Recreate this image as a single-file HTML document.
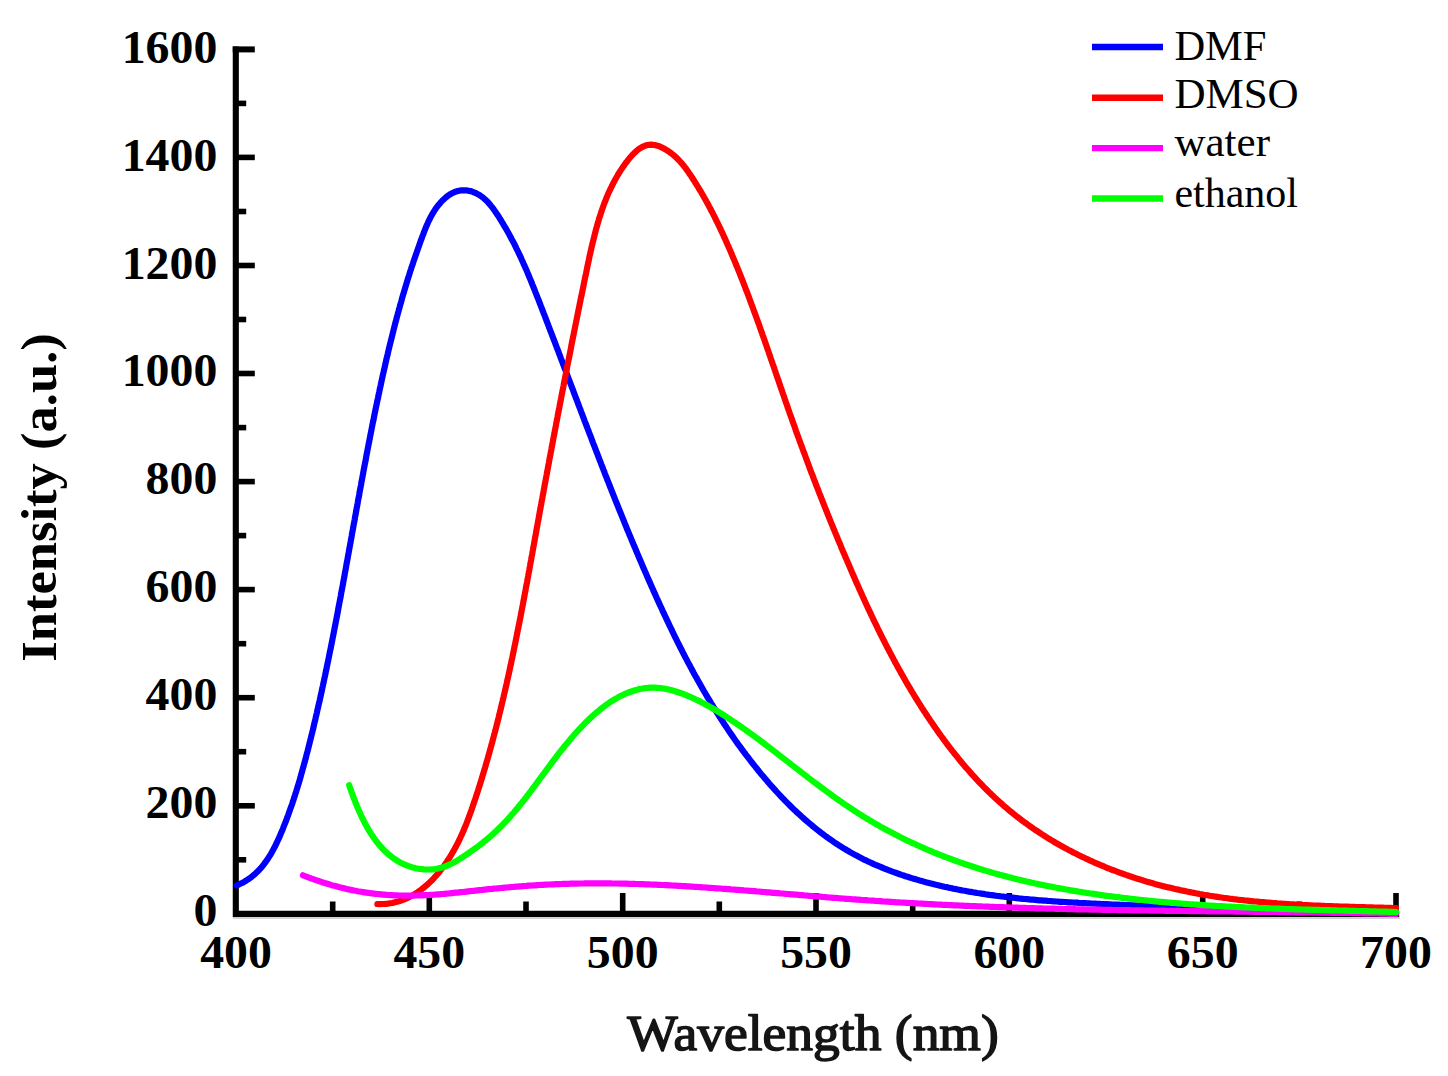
<!DOCTYPE html>
<html><head><meta charset="utf-8"><style>
html,body{margin:0;padding:0;background:#fff;}
body{width:1448px;height:1076px;overflow:hidden;}
svg{display:block;}
</style></head><body>
<svg width="1448" height="1076" viewBox="0 0 1448 1076">
<rect width="1448" height="1076" fill="#fff"/>
<path d="M235.8 46.4 V913.9 H1399.2" fill="none" stroke="#000" stroke-width="6.1" stroke-linejoin="miter"/>
<line x1="233" y1="918" x2="1400" y2="918" stroke="#d2d2d2" stroke-width="2"/>
<line x1="236" y1="859.8" x2="246.2" y2="859.8" stroke="#000" stroke-width="5.6"/>
<line x1="236" y1="805.8" x2="254.8" y2="805.8" stroke="#000" stroke-width="5.6"/>
<line x1="236" y1="751.7" x2="246.2" y2="751.7" stroke="#000" stroke-width="5.6"/>
<line x1="236" y1="697.7" x2="254.8" y2="697.7" stroke="#000" stroke-width="5.6"/>
<line x1="236" y1="643.7" x2="246.2" y2="643.7" stroke="#000" stroke-width="5.6"/>
<line x1="236" y1="589.6" x2="254.8" y2="589.6" stroke="#000" stroke-width="5.6"/>
<line x1="236" y1="535.6" x2="246.2" y2="535.6" stroke="#000" stroke-width="5.6"/>
<line x1="236" y1="481.6" x2="254.8" y2="481.6" stroke="#000" stroke-width="5.6"/>
<line x1="236" y1="427.6" x2="246.2" y2="427.6" stroke="#000" stroke-width="5.6"/>
<line x1="236" y1="373.5" x2="254.8" y2="373.5" stroke="#000" stroke-width="5.6"/>
<line x1="236" y1="319.5" x2="246.2" y2="319.5" stroke="#000" stroke-width="5.6"/>
<line x1="236" y1="265.5" x2="254.8" y2="265.5" stroke="#000" stroke-width="5.6"/>
<line x1="236" y1="211.5" x2="246.2" y2="211.5" stroke="#000" stroke-width="5.6"/>
<line x1="236" y1="157.4" x2="254.8" y2="157.4" stroke="#000" stroke-width="5.6"/>
<line x1="236" y1="103.4" x2="246.2" y2="103.4" stroke="#000" stroke-width="5.6"/>
<path d="M232.75 49.4 H254.8" stroke="#000" stroke-width="6"/>
<line x1="332.7" y1="914" x2="332.7" y2="901.5" stroke="#000" stroke-width="5.6"/>
<line x1="429.3" y1="914" x2="429.3" y2="893.0" stroke="#000" stroke-width="5.6"/>
<line x1="526.0" y1="914" x2="526.0" y2="901.5" stroke="#000" stroke-width="5.6"/>
<line x1="622.7" y1="914" x2="622.7" y2="893.0" stroke="#000" stroke-width="5.6"/>
<line x1="719.3" y1="914" x2="719.3" y2="901.5" stroke="#000" stroke-width="5.6"/>
<line x1="816.0" y1="914" x2="816.0" y2="893.0" stroke="#000" stroke-width="5.6"/>
<line x1="912.7" y1="914" x2="912.7" y2="901.5" stroke="#000" stroke-width="5.6"/>
<line x1="1009.3" y1="914" x2="1009.3" y2="893.0" stroke="#000" stroke-width="5.6"/>
<line x1="1106.0" y1="914" x2="1106.0" y2="901.5" stroke="#000" stroke-width="5.6"/>
<line x1="1202.7" y1="914" x2="1202.7" y2="893.0" stroke="#000" stroke-width="5.6"/>
<line x1="1299.3" y1="914" x2="1299.3" y2="901.5" stroke="#000" stroke-width="5.6"/>
<line x1="1396.0" y1="914" x2="1396.0" y2="893.0" stroke="#000" stroke-width="5.6"/>
<g fill="none" stroke-width="6.2" stroke-linecap="round" stroke-linejoin="round">
<path d="M236.7 885.4 L238.7 884.6 L240.7 883.6 L242.6 882.7 L244.5 881.6 L246.3 880.5 L248.0 879.4 L249.7 878.2 L251.4 877.0 L253.0 875.7 L254.5 874.4 L256.0 873.0 L257.5 871.6 L258.9 870.1 L260.3 868.6 L261.7 867.1 L263.0 865.5 L264.2 863.9 L265.4 862.2 L266.6 860.6 L267.8 858.8 L268.9 857.1 L270.0 855.4 L271.1 853.6 L272.1 851.8 L273.1 849.9 L274.1 848.1 L275.1 846.2 L276.0 844.3 L276.9 842.4 L277.8 840.5 L278.7 838.6 L279.6 836.7 L280.4 834.7 L281.2 832.8 L282.1 830.8 L282.9 828.8 L283.6 826.9 L284.4 824.9 L285.2 822.9 L286.0 821.0 L286.7 819.0 L287.4 817.0 L288.2 815.1 L288.9 813.1 L289.6 811.1 L290.3 809.1 L291.0 807.1 L291.7 805.2 L292.4 803.2 L293.0 801.2 L293.7 799.2 L294.3 797.2 L295.0 795.2 L295.6 793.2 L296.3 791.2 L296.9 789.2 L297.5 787.2 L298.1 785.3 L298.7 783.3 L299.3 781.3 L299.9 779.3 L300.5 777.2 L301.0 775.2 L301.6 773.2 L302.2 771.2 L302.7 769.2 L303.3 767.2 L303.8 765.2 L304.4 763.2 L304.9 761.2 L305.5 759.2 L306.0 757.2 L306.5 755.1 L307.0 753.1 L307.6 751.1 L308.1 749.1 L308.6 747.1 L309.1 745.1 L309.6 743.0 L310.1 741.0 L310.6 739.0 L311.1 737.0 L311.6 734.9 L312.1 732.9 L312.6 730.9 L313.1 728.9 L313.6 726.8 L314.0 724.8 L314.5 722.8 L315.0 720.7 L315.5 718.7 L315.9 716.7 L316.4 714.7 L316.9 712.6 L317.3 710.6 L317.8 708.6 L318.3 706.5 L318.7 704.5 L319.2 702.4 L319.7 700.4 L320.1 698.4 L320.6 696.3 L321.0 694.3 L321.5 692.3 L321.9 690.2 L322.3 688.2 L322.8 686.1 L323.2 684.1 L323.7 682.0 L324.1 680.0 L324.5 678.0 L325.0 675.9 L325.4 673.9 L325.8 671.8 L326.3 669.8 L326.7 667.7 L327.1 665.7 L327.5 663.6 L328.0 661.6 L328.4 659.5 L328.8 657.5 L329.2 655.4 L329.6 653.4 L330.0 651.3 L330.5 649.3 L330.9 647.2 L331.3 645.2 L331.7 643.1 L332.1 641.1 L332.5 639.0 L332.9 637.0 L333.3 634.9 L333.7 632.8 L334.1 630.8 L334.5 628.7 L334.9 626.7 L335.3 624.6 L335.7 622.6 L336.1 620.5 L336.5 618.5 L336.9 616.4 L337.3 614.3 L337.7 612.3 L338.1 610.2 L338.4 608.2 L338.8 606.1 L339.2 604.0 L339.6 602.0 L340.0 599.9 L340.4 597.9 L340.8 595.8 L341.1 593.7 L341.5 591.7 L341.9 589.6 L342.3 587.6 L342.7 585.5 L343.1 583.4 L343.4 581.4 L343.8 579.3 L344.2 577.2 L344.6 575.2 L344.9 573.1 L345.3 571.1 L345.7 569.0 L346.1 566.9 L346.4 564.9 L346.8 562.8 L347.2 560.7 L347.6 558.7 L347.9 556.6 L348.3 554.6 L348.7 552.5 L349.1 550.4 L349.4 548.4 L349.8 546.3 L350.2 544.2 L350.6 542.2 L350.9 540.1 L351.3 538.1 L351.7 536.0 L352.0 533.9 L352.4 531.9 L352.8 529.8 L353.2 527.7 L353.5 525.7 L353.9 523.6 L354.3 521.6 L354.7 519.5 L355.0 517.4 L355.4 515.4 L355.8 513.3 L356.2 511.2 L356.5 509.2 L356.9 507.1 L357.3 505.1 L357.7 503.0 L358.0 500.9 L358.4 498.9 L358.8 496.8 L359.2 494.8 L359.5 492.7 L359.9 490.6 L360.3 488.6 L360.7 486.5 L361.1 484.5 L361.4 482.4 L361.8 480.3 L362.2 478.3 L362.6 476.2 L363.0 474.2 L363.3 472.1 L363.7 470.1 L364.1 468.0 L364.5 465.9 L364.9 463.9 L365.3 461.8 L365.7 459.8 L366.1 457.7 L366.4 455.7 L366.8 453.6 L367.2 451.6 L367.6 449.5 L368.0 447.5 L368.4 445.4 L368.8 443.4 L369.2 441.3 L369.6 439.3 L370.0 437.2 L370.4 435.2 L370.8 433.1 L371.2 431.1 L371.6 429.0 L372.0 427.0 L372.4 424.9 L372.8 422.9 L373.3 420.8 L373.7 418.8 L374.1 416.7 L374.5 414.7 L374.9 412.6 L375.3 410.6 L375.7 408.6 L376.2 406.5 L376.6 404.5 L377.0 402.4 L377.4 400.4 L377.9 398.4 L378.3 396.3 L378.7 394.3 L379.2 392.2 L379.6 390.2 L380.0 388.2 L380.5 386.1 L380.9 384.1 L381.3 382.1 L381.8 380.0 L382.2 378.0 L382.7 376.0 L383.1 373.9 L383.6 371.9 L384.0 369.9 L384.5 367.9 L385.0 365.8 L385.4 363.8 L385.9 361.8 L386.3 359.8 L386.8 357.7 L387.3 355.7 L387.8 353.7 L388.2 351.7 L388.7 349.6 L389.2 347.6 L389.7 345.6 L390.2 343.6 L390.7 341.5 L391.2 339.5 L391.7 337.5 L392.2 335.5 L392.7 333.5 L393.2 331.5 L393.7 329.4 L394.2 327.4 L394.7 325.4 L395.2 323.4 L395.8 321.4 L396.3 319.4 L396.8 317.4 L397.4 315.3 L397.9 313.3 L398.5 311.3 L399.0 309.3 L399.6 307.3 L400.1 305.3 L400.7 303.3 L401.3 301.3 L401.8 299.3 L402.4 297.2 L403.0 295.2 L403.6 293.2 L404.2 291.2 L404.8 289.2 L405.4 287.2 L406.0 285.2 L406.6 283.2 L407.2 281.2 L407.8 279.2 L408.4 277.2 L409.1 275.2 L409.7 273.2 L410.3 271.2 L411.0 269.2 L411.6 267.2 L412.3 265.2 L413.0 263.2 L413.6 261.2 L414.3 259.2 L415.0 257.2 L415.7 255.2 L416.4 253.2 L417.1 251.2 L417.8 249.2 L418.5 247.2 L419.2 245.2 L419.9 243.2 L420.6 241.2 L421.4 239.2 L422.1 237.2 L422.9 235.2 L423.6 233.2 L424.4 231.2 L425.2 229.2 L426.0 227.2 L426.8 225.3 L427.7 223.3 L428.5 221.4 L429.5 219.5 L430.4 217.6 L431.4 215.8 L432.4 213.9 L433.5 212.1 L434.6 210.4 L435.7 208.6 L437.0 206.9 L438.2 205.3 L439.6 203.7 L440.9 202.1 L442.4 200.6 L443.9 199.2 L445.4 197.8 L447.0 196.5 L448.6 195.3 L450.3 194.2 L452.0 193.3 L453.8 192.4 L455.5 191.7 L457.3 191.1 L459.2 190.7 L461.0 190.4 L462.8 190.3 L464.7 190.3 L466.6 190.4 L468.4 190.7 L470.3 191.1 L472.1 191.6 L473.9 192.3 L475.7 193.0 L477.4 193.9 L479.2 194.9 L480.8 196.0 L482.5 197.2 L484.0 198.5 L485.6 199.9 L487.1 201.3 L488.5 202.9 L489.9 204.5 L491.2 206.1 L492.6 207.8 L493.9 209.6 L495.1 211.4 L496.4 213.2 L497.6 215.0 L498.8 216.8 L499.9 218.7 L501.1 220.5 L502.2 222.4 L503.3 224.2 L504.4 226.1 L505.5 227.9 L506.6 229.8 L507.7 231.7 L508.7 233.5 L509.7 235.4 L510.7 237.3 L511.7 239.2 L512.7 241.0 L513.7 242.9 L514.7 244.8 L515.6 246.7 L516.5 248.6 L517.5 250.5 L518.4 252.4 L519.3 254.3 L520.2 256.2 L521.1 258.1 L521.9 260.0 L522.8 261.9 L523.6 263.8 L524.5 265.7 L525.3 267.6 L526.2 269.5 L527.0 271.4 L527.8 273.4 L528.6 275.3 L529.4 277.2 L530.2 279.1 L531.0 281.0 L531.8 283.0 L532.5 284.9 L533.3 286.8 L534.1 288.7 L534.9 290.7 L535.6 292.6 L536.4 294.5 L537.1 296.5 L537.9 298.4 L538.7 300.3 L539.4 302.3 L540.2 304.2 L540.9 306.1 L541.7 308.1 L542.4 310.0 L543.2 312.0 L543.9 313.9 L544.7 315.8 L545.4 317.8 L546.2 319.7 L546.9 321.7 L547.7 323.6 L548.4 325.5 L549.1 327.5 L549.9 329.4 L550.6 331.4 L551.4 333.3 L552.1 335.3 L552.9 337.2 L553.6 339.2 L554.4 341.1 L555.1 343.0 L555.8 345.0 L556.6 346.9 L557.3 348.9 L558.1 350.8 L558.8 352.8 L559.5 354.7 L560.3 356.7 L561.0 358.6 L561.8 360.6 L562.5 362.5 L563.2 364.5 L564.0 366.4 L564.7 368.4 L565.5 370.3 L566.2 372.3 L566.9 374.2 L567.7 376.2 L568.4 378.1 L569.2 380.1 L569.9 382.0 L570.6 384.0 L571.4 385.9 L572.1 387.9 L572.9 389.8 L573.6 391.8 L574.3 393.8 L575.1 395.7 L575.8 397.7 L576.6 399.6 L577.3 401.6 L578.0 403.5 L578.8 405.5 L579.5 407.4 L580.3 409.4 L581.0 411.3 L581.8 413.3 L582.5 415.2 L583.2 417.2 L584.0 419.2 L584.7 421.1 L585.5 423.1 L586.2 425.0 L587.0 427.0 L587.7 428.9 L588.5 430.9 L589.2 432.8 L590.0 434.8 L590.7 436.7 L591.5 438.7 L592.2 440.6 L592.9 442.6 L593.7 444.6 L594.5 446.5 L595.2 448.5 L596.0 450.4 L596.7 452.4 L597.5 454.3 L598.2 456.3 L599.0 458.2 L599.7 460.2 L600.5 462.1 L601.2 464.1 L602.0 466.0 L602.8 468.0 L603.5 469.9 L604.3 471.9 L605.0 473.8 L605.8 475.8 L606.6 477.7 L607.3 479.7 L608.1 481.6 L608.9 483.6 L609.6 485.5 L610.4 487.5 L611.2 489.4 L611.9 491.4 L612.7 493.3 L613.5 495.3 L614.3 497.2 L615.0 499.1 L615.8 501.1 L616.6 503.0 L617.4 505.0 L618.2 506.9 L618.9 508.9 L619.7 510.8 L620.5 512.7 L621.3 514.7 L622.1 516.6 L622.9 518.6 L623.7 520.5 L624.4 522.4 L625.2 524.4 L626.0 526.3 L626.8 528.3 L627.6 530.2 L628.4 532.1 L629.2 534.1 L630.0 536.0 L630.8 537.9 L631.6 539.9 L632.4 541.8 L633.2 543.7 L634.0 545.7 L634.9 547.6 L635.7 549.5 L636.5 551.5 L637.3 553.4 L638.1 555.3 L638.9 557.2 L639.7 559.2 L640.6 561.1 L641.4 563.0 L642.2 564.9 L643.0 566.9 L643.9 568.8 L644.7 570.7 L645.5 572.6 L646.4 574.6 L647.2 576.5 L648.0 578.4 L648.9 580.3 L649.7 582.2 L650.6 584.1 L651.4 586.1 L652.3 588.0 L653.1 589.9 L654.0 591.8 L654.8 593.7 L655.7 595.6 L656.5 597.5 L657.4 599.4 L658.3 601.3 L659.1 603.2 L660.0 605.1 L660.9 607.0 L661.8 608.9 L662.6 610.8 L663.5 612.7 L664.4 614.6 L665.3 616.5 L666.2 618.4 L667.1 620.3 L668.0 622.2 L668.9 624.1 L669.8 626.0 L670.7 627.8 L671.6 629.7 L672.5 631.6 L673.4 633.5 L674.3 635.3 L675.2 637.2 L676.2 639.1 L677.1 641.0 L678.0 642.8 L679.0 644.7 L679.9 646.6 L680.8 648.4 L681.8 650.3 L682.7 652.1 L683.7 654.0 L684.6 655.8 L685.6 657.7 L686.6 659.5 L687.5 661.4 L688.5 663.2 L689.5 665.0 L690.5 666.9 L691.5 668.7 L692.4 670.5 L693.4 672.4 L694.4 674.2 L695.4 676.0 L696.5 677.8 L697.5 679.7 L698.5 681.5 L699.5 683.3 L700.5 685.1 L701.6 686.9 L702.6 688.7 L703.6 690.5 L704.7 692.3 L705.7 694.1 L706.8 695.9 L707.8 697.7 L708.9 699.4 L710.0 701.2 L711.0 703.0 L712.1 704.8 L713.2 706.5 L714.3 708.3 L715.4 710.1 L716.5 711.8 L717.6 713.6 L718.7 715.3 L719.8 717.1 L720.9 718.8 L722.1 720.6 L723.2 722.3 L724.3 724.1 L725.5 725.8 L726.6 727.5 L727.8 729.2 L728.9 731.0 L730.1 732.7 L731.3 734.4 L732.5 736.1 L733.6 737.8 L734.8 739.5 L736.0 741.2 L737.2 742.9 L738.4 744.6 L739.7 746.2 L740.9 747.9 L742.1 749.6 L743.3 751.3 L744.6 752.9 L745.8 754.6 L747.1 756.2 L748.4 757.9 L749.6 759.5 L750.9 761.2 L752.2 762.8 L753.5 764.5 L754.8 766.1 L756.1 767.7 L757.4 769.3 L758.7 771.0 L760.0 772.6 L761.3 774.2 L762.7 775.8 L764.0 777.4 L765.4 779.0 L766.7 780.5 L768.1 782.1 L769.4 783.7 L770.8 785.3 L772.2 786.8 L773.6 788.4 L775.0 789.9 L776.4 791.5 L777.8 793.0 L779.2 794.5 L780.7 796.1 L782.1 797.6 L783.6 799.1 L785.0 800.6 L786.5 802.1 L788.0 803.6 L789.4 805.0 L790.9 806.5 L792.4 808.0 L793.9 809.4 L795.4 810.8 L796.9 812.3 L798.5 813.7 L800.0 815.1 L801.5 816.5 L803.1 817.9 L804.7 819.3 L806.2 820.6 L807.8 822.0 L809.4 823.4 L811.0 824.7 L812.6 826.0 L814.2 827.3 L815.8 828.6 L817.4 829.9 L819.1 831.2 L820.7 832.5 L822.4 833.7 L824.0 835.0 L825.7 836.2 L827.4 837.4 L829.1 838.7 L830.8 839.8 L832.5 841.0 L834.2 842.2 L835.9 843.4 L837.7 844.5 L839.4 845.6 L841.1 846.7 L842.9 847.8 L844.7 848.9 L846.5 850.0 L848.3 851.0 L850.1 852.1 L851.9 853.1 L853.7 854.1 L855.5 855.1 L857.4 856.1 L859.2 857.0 L861.1 858.0 L862.9 858.9 L864.8 859.9 L866.7 860.8 L868.5 861.7 L870.4 862.5 L872.3 863.4 L874.3 864.3 L876.2 865.1 L878.1 865.9 L880.0 866.7 L882.0 867.5 L883.9 868.3 L885.9 869.1 L887.8 869.9 L889.8 870.6 L891.7 871.4 L893.7 872.1 L895.7 872.8 L897.7 873.5 L899.7 874.2 L901.6 874.9 L903.6 875.5 L905.6 876.2 L907.6 876.8 L909.7 877.5 L911.7 878.1 L913.7 878.7 L915.7 879.3 L917.7 879.9 L919.8 880.5 L921.8 881.0 L923.8 881.6 L925.9 882.2 L927.9 882.7 L929.9 883.2 L932.0 883.7 L934.0 884.3 L936.1 884.8 L938.1 885.2 L940.2 885.7 L942.2 886.2 L944.3 886.7 L946.3 887.1 L948.4 887.6 L950.4 888.0 L952.5 888.4 L954.5 888.9 L956.6 889.3 L958.7 889.7 L960.7 890.1 L962.8 890.5 L964.8 890.8 L966.9 891.2 L969.0 891.6 L971.0 891.9 L973.1 892.3 L975.1 892.6 L977.2 893.0 L979.3 893.3 L981.3 893.6 L983.4 893.9 L985.5 894.3 L987.5 894.6 L989.6 894.9 L991.7 895.1 L993.7 895.4 L995.8 895.7 L997.9 896.0 L999.9 896.2 L1002.0 896.5 L1004.1 896.7 L1006.1 897.0 L1008.2 897.2 L1010.3 897.5 L1012.4 897.7 L1014.4 897.9 L1016.5 898.1 L1018.6 898.4 L1020.7 898.6 L1022.7 898.8 L1024.8 899.0 L1026.9 899.2 L1029.0 899.4 L1031.0 899.6 L1033.1 899.7 L1035.2 899.9 L1037.3 900.1 L1039.4 900.3 L1041.4 900.4 L1043.5 900.6 L1045.6 900.7 L1047.7 900.9 L1049.8 901.0 L1051.8 901.2 L1053.9 901.3 L1056.0 901.5 L1058.1 901.6 L1060.2 901.8 L1062.2 901.9 L1064.3 902.0 L1066.4 902.1 L1068.5 902.3 L1070.6 902.4 L1072.7 902.5 L1074.7 902.6 L1076.8 902.7 L1078.9 902.9 L1081.0 903.0 L1083.1 903.1 L1085.2 903.2 L1087.3 903.3 L1089.3 903.4 L1091.4 903.5 L1093.5 903.6 L1095.6 903.7 L1097.7 903.8 L1099.8 903.9 L1101.9 904.0 L1104.0 904.1 L1106.0 904.2 L1108.1 904.3 L1110.2 904.4 L1112.3 904.5 L1114.4 904.6 L1116.5 904.7 L1118.6 904.7 L1120.7 904.8 L1122.7 904.9 L1124.8 905.0 L1126.9 905.1 L1129.0 905.2 L1131.1 905.3 L1133.2 905.3 L1135.3 905.4 L1137.4 905.5 L1139.5 905.6 L1141.6 905.7 L1143.6 905.8 L1145.7 905.8 L1147.8 905.9 L1149.9 906.0 L1152.0 906.1 L1154.1 906.1 L1156.2 906.2 L1158.3 906.3 L1160.4 906.4 L1162.5 906.4 L1164.6 906.5 L1166.6 906.6 L1168.7 906.7 L1170.8 906.7 L1172.9 906.8 L1175.0 906.9 L1177.1 906.9 L1179.2 907.0 L1181.3 907.1 L1183.4 907.1 L1185.5 907.2 L1187.6 907.3 L1189.7 907.3 L1191.7 907.4 L1193.8 907.5 L1195.9 907.5 L1198.0 907.6 L1200.1 907.7 L1202.2 907.7 L1204.3 907.8 L1206.4 907.8 L1208.5 907.9 L1210.6 908.0 L1212.7 908.0 L1214.8 908.1 L1216.9 908.1 L1219.0 908.2 L1221.0 908.3 L1223.1 908.3 L1225.2 908.4 L1227.3 908.4 L1229.4 908.5 L1231.5 908.5 L1233.6 908.6 L1235.7 908.7 L1237.8 908.7 L1239.9 908.8 L1242.0 908.8 L1244.1 908.9 L1246.2 908.9 L1248.3 909.0 L1250.4 909.0 L1252.4 909.1 L1254.5 909.1 L1256.6 909.2 L1258.7 909.2 L1260.8 909.3 L1262.9 909.3 L1265.0 909.4 L1267.1 909.4 L1269.2 909.5 L1271.3 909.5 L1273.4 909.6 L1275.5 909.6 L1277.6 909.7 L1279.7 909.7 L1281.7 909.8 L1283.8 909.8 L1285.9 909.9 L1288.0 909.9 L1290.1 910.0 L1292.2 910.0 L1294.3 910.1 L1296.4 910.1 L1298.5 910.2 L1300.6 910.2 L1302.7 910.3 L1304.8 910.3 L1306.9 910.4 L1308.9 910.4 L1311.0 910.5 L1313.1 910.5 L1315.2 910.6 L1317.3 910.6 L1319.4 910.7 L1321.5 910.7 L1323.6 910.8 L1325.7 910.8 L1327.8 910.9 L1329.9 910.9 L1332.0 911.0 L1334.0 911.0 L1336.1 911.1 L1338.2 911.1 L1340.3 911.1 L1342.4 911.2 L1344.5 911.2 L1346.6 911.3 L1348.7 911.3 L1350.8 911.4 L1352.9 911.4 L1354.9 911.5 L1357.0 911.5 L1359.1 911.6 L1361.2 911.6 L1363.3 911.7 L1365.4 911.7 L1367.5 911.8 L1369.6 911.8 L1371.6 911.9 L1373.7 911.9 L1375.8 912.0 L1377.9 912.0 L1380.0 912.1 L1382.1 912.2 L1384.2 912.2 L1386.3 912.3 L1388.3 912.3 L1390.4 912.4 L1392.5 912.4 L1394.6 912.5 L1396.0 912.5" stroke="#0000ff"/>
<path d="M377.4 904.0 L379.5 904.1 L381.7 904.0 L383.8 904.0 L385.9 903.8 L387.9 903.6 L390.0 903.3 L392.0 903.0 L394.0 902.6 L395.9 902.1 L397.9 901.6 L399.8 901.0 L401.7 900.4 L403.5 899.7 L405.4 898.9 L407.2 898.1 L409.0 897.2 L410.7 896.3 L412.5 895.4 L414.2 894.4 L415.9 893.3 L417.5 892.3 L419.2 891.1 L420.8 890.0 L422.4 888.7 L423.9 887.5 L425.5 886.2 L427.0 884.9 L428.5 883.5 L429.9 882.2 L431.4 880.8 L432.8 879.3 L434.2 877.8 L435.5 876.3 L436.9 874.8 L438.2 873.3 L439.5 871.7 L440.7 870.1 L442.0 868.5 L443.2 866.9 L444.4 865.3 L445.5 863.6 L446.7 862.0 L447.8 860.3 L448.9 858.6 L450.0 856.9 L451.0 855.2 L452.0 853.5 L453.1 851.7 L454.0 850.0 L455.0 848.3 L455.9 846.5 L456.9 844.7 L457.8 843.0 L458.7 841.2 L459.5 839.4 L460.4 837.6 L461.2 835.8 L462.1 833.9 L462.9 832.1 L463.7 830.3 L464.4 828.4 L465.2 826.6 L466.0 824.7 L466.7 822.9 L467.4 821.0 L468.1 819.1 L468.8 817.3 L469.5 815.4 L470.2 813.5 L470.9 811.6 L471.6 809.7 L472.2 807.8 L472.9 805.9 L473.5 804.0 L474.2 802.1 L474.8 800.2 L475.5 798.3 L476.1 796.4 L476.7 794.5 L477.3 792.6 L478.0 790.7 L478.6 788.7 L479.2 786.8 L479.8 784.9 L480.4 783.0 L481.0 781.1 L481.6 779.1 L482.2 777.2 L482.7 775.3 L483.3 773.4 L483.9 771.4 L484.5 769.5 L485.1 767.6 L485.6 765.6 L486.2 763.7 L486.7 761.8 L487.3 759.8 L487.9 757.9 L488.4 755.9 L489.0 754.0 L489.5 752.1 L490.0 750.1 L490.6 748.2 L491.1 746.2 L491.6 744.3 L492.2 742.3 L492.7 740.4 L493.2 738.4 L493.7 736.5 L494.2 734.5 L494.8 732.6 L495.3 730.6 L495.8 728.7 L496.3 726.7 L496.8 724.8 L497.3 722.8 L497.8 720.8 L498.3 718.9 L498.8 716.9 L499.2 714.9 L499.7 713.0 L500.2 711.0 L500.7 709.1 L501.2 707.1 L501.6 705.1 L502.1 703.1 L502.6 701.2 L503.0 699.2 L503.5 697.2 L503.9 695.3 L504.4 693.3 L504.9 691.3 L505.3 689.3 L505.8 687.4 L506.2 685.4 L506.7 683.4 L507.1 681.4 L507.5 679.5 L508.0 677.5 L508.4 675.5 L508.9 673.5 L509.3 671.5 L509.7 669.6 L510.1 667.6 L510.6 665.6 L511.0 663.6 L511.4 661.6 L511.8 659.6 L512.3 657.7 L512.7 655.7 L513.1 653.7 L513.5 651.7 L513.9 649.7 L514.3 647.7 L514.7 645.7 L515.1 643.8 L515.5 641.8 L515.9 639.8 L516.3 637.8 L516.7 635.8 L517.1 633.8 L517.5 631.8 L517.9 629.8 L518.3 627.8 L518.7 625.8 L519.1 623.8 L519.5 621.9 L519.9 619.9 L520.3 617.9 L520.7 615.9 L521.0 613.9 L521.4 611.9 L521.8 609.9 L522.2 607.9 L522.6 605.9 L523.0 603.9 L523.3 601.9 L523.7 599.9 L524.1 597.9 L524.5 595.9 L524.8 593.9 L525.2 591.9 L525.6 589.9 L525.9 587.9 L526.3 585.9 L526.7 584.0 L527.1 582.0 L527.4 580.0 L527.8 578.0 L528.2 576.0 L528.5 574.0 L528.9 572.0 L529.3 570.0 L529.6 568.0 L530.0 566.0 L530.3 564.0 L530.7 562.0 L531.1 560.0 L531.4 558.0 L531.8 556.0 L532.2 554.0 L532.5 552.0 L532.9 550.0 L533.2 548.0 L533.6 546.0 L534.0 544.1 L534.3 542.1 L534.7 540.1 L535.0 538.1 L535.4 536.1 L535.8 534.1 L536.1 532.1 L536.5 530.1 L536.8 528.1 L537.2 526.1 L537.6 524.1 L537.9 522.1 L538.3 520.2 L538.7 518.2 L539.0 516.2 L539.4 514.2 L539.7 512.2 L540.1 510.2 L540.5 508.2 L540.8 506.2 L541.2 504.3 L541.5 502.3 L541.9 500.3 L542.3 498.3 L542.6 496.3 L543.0 494.3 L543.4 492.4 L543.7 490.4 L544.1 488.4 L544.5 486.4 L544.8 484.4 L545.2 482.4 L545.6 480.5 L545.9 478.5 L546.3 476.5 L546.7 474.5 L547.0 472.5 L547.4 470.6 L547.8 468.6 L548.1 466.6 L548.5 464.6 L548.9 462.6 L549.2 460.7 L549.6 458.7 L550.0 456.7 L550.4 454.7 L550.7 452.7 L551.1 450.8 L551.5 448.8 L551.8 446.8 L552.2 444.8 L552.6 442.8 L553.0 440.9 L553.3 438.9 L553.7 436.9 L554.1 434.9 L554.5 433.0 L554.8 431.0 L555.2 429.0 L555.6 427.0 L556.0 425.1 L556.3 423.1 L556.7 421.1 L557.1 419.1 L557.5 417.1 L557.8 415.2 L558.2 413.2 L558.6 411.2 L559.0 409.2 L559.4 407.3 L559.7 405.3 L560.1 403.3 L560.5 401.3 L560.9 399.3 L561.3 397.4 L561.6 395.4 L562.0 393.4 L562.4 391.4 L562.8 389.5 L563.2 387.5 L563.6 385.5 L563.9 383.5 L564.3 381.5 L564.7 379.6 L565.1 377.6 L565.5 375.6 L565.9 373.6 L566.3 371.6 L566.7 369.7 L567.0 367.7 L567.4 365.7 L567.8 363.7 L568.2 361.7 L568.6 359.8 L569.0 357.8 L569.4 355.8 L569.8 353.8 L570.2 351.8 L570.6 349.8 L571.0 347.9 L571.3 345.9 L571.7 343.9 L572.1 341.9 L572.5 339.9 L572.9 337.9 L573.3 336.0 L573.7 334.0 L574.1 332.0 L574.5 330.0 L574.9 328.0 L575.3 326.0 L575.7 324.0 L576.1 322.0 L576.5 320.1 L576.9 318.1 L577.3 316.1 L577.7 314.1 L578.1 312.1 L578.5 310.1 L578.9 308.1 L579.3 306.1 L579.7 304.1 L580.1 302.1 L580.5 300.1 L580.9 298.1 L581.4 296.1 L581.8 294.2 L582.2 292.2 L582.6 290.2 L583.0 288.2 L583.4 286.2 L583.8 284.2 L584.2 282.2 L584.6 280.2 L585.0 278.2 L585.4 276.2 L585.9 274.2 L586.3 272.2 L586.7 270.2 L587.1 268.2 L587.5 266.1 L587.9 264.1 L588.4 262.1 L588.8 260.1 L589.2 258.1 L589.6 256.1 L590.1 254.1 L590.5 252.1 L591.0 250.1 L591.4 248.1 L591.9 246.1 L592.3 244.2 L592.8 242.2 L593.3 240.2 L593.8 238.2 L594.3 236.2 L594.8 234.3 L595.3 232.3 L595.8 230.3 L596.3 228.4 L596.9 226.4 L597.4 224.5 L598.0 222.5 L598.6 220.6 L599.1 218.6 L599.7 216.7 L600.4 214.8 L601.0 212.9 L601.6 211.0 L602.3 209.0 L602.9 207.2 L603.6 205.3 L604.3 203.4 L605.1 201.5 L605.8 199.6 L606.5 197.8 L607.3 195.9 L608.1 194.1 L608.9 192.3 L609.7 190.5 L610.6 188.6 L611.5 186.8 L612.3 185.1 L613.2 183.3 L614.2 181.5 L615.1 179.8 L616.1 178.0 L617.1 176.3 L618.1 174.5 L619.2 172.8 L620.2 171.1 L621.3 169.4 L622.4 167.8 L623.6 166.1 L624.7 164.5 L625.9 162.8 L627.2 161.2 L628.4 159.6 L629.7 158.0 L631.0 156.5 L632.3 155.0 L633.7 153.6 L635.1 152.2 L636.5 150.9 L638.0 149.7 L639.5 148.6 L641.0 147.7 L642.6 146.8 L644.2 146.1 L645.8 145.5 L647.5 145.0 L649.2 144.8 L651.0 144.7 L652.8 144.8 L654.6 145.0 L656.5 145.5 L658.4 146.0 L660.2 146.7 L662.1 147.6 L664.0 148.5 L665.8 149.6 L667.7 150.7 L669.5 152.0 L671.2 153.3 L672.9 154.6 L674.6 156.0 L676.2 157.5 L677.7 159.0 L679.2 160.5 L680.6 162.0 L681.9 163.6 L683.3 165.2 L684.5 166.8 L685.8 168.4 L687.0 170.1 L688.2 171.8 L689.3 173.4 L690.5 175.1 L691.6 176.8 L692.7 178.5 L693.8 180.2 L694.9 182.0 L696.0 183.7 L697.0 185.4 L698.1 187.1 L699.1 188.9 L700.2 190.6 L701.2 192.3 L702.2 194.1 L703.2 195.8 L704.2 197.6 L705.2 199.3 L706.2 201.1 L707.2 202.9 L708.2 204.6 L709.1 206.4 L710.1 208.2 L711.0 210.0 L711.9 211.8 L712.9 213.6 L713.8 215.4 L714.7 217.2 L715.6 219.0 L716.5 220.8 L717.4 222.6 L718.3 224.4 L719.1 226.2 L720.0 228.0 L720.9 229.9 L721.7 231.7 L722.6 233.5 L723.4 235.3 L724.2 237.2 L725.1 239.0 L725.9 240.8 L726.7 242.7 L727.5 244.5 L728.4 246.4 L729.2 248.2 L730.0 250.1 L730.8 251.9 L731.6 253.8 L732.3 255.6 L733.1 257.5 L733.9 259.4 L734.7 261.2 L735.5 263.1 L736.2 265.0 L737.0 266.8 L737.8 268.7 L738.5 270.6 L739.3 272.4 L740.0 274.3 L740.8 276.2 L741.5 278.1 L742.3 279.9 L743.0 281.8 L743.7 283.7 L744.5 285.6 L745.2 287.5 L745.9 289.4 L746.6 291.3 L747.4 293.1 L748.1 295.0 L748.8 296.9 L749.5 298.8 L750.2 300.7 L750.9 302.6 L751.6 304.5 L752.3 306.4 L753.0 308.3 L753.7 310.2 L754.4 312.1 L755.1 314.0 L755.8 315.9 L756.5 317.8 L757.2 319.7 L757.9 321.6 L758.6 323.5 L759.3 325.4 L759.9 327.3 L760.6 329.3 L761.3 331.2 L762.0 333.1 L762.6 335.0 L763.3 336.9 L764.0 338.8 L764.7 340.7 L765.3 342.6 L766.0 344.5 L766.7 346.5 L767.3 348.4 L768.0 350.3 L768.7 352.2 L769.3 354.1 L770.0 356.0 L770.6 357.9 L771.3 359.9 L772.0 361.8 L772.6 363.7 L773.3 365.6 L774.0 367.5 L774.6 369.4 L775.3 371.4 L775.9 373.3 L776.6 375.2 L777.2 377.1 L777.9 379.0 L778.6 380.9 L779.2 382.9 L779.9 384.8 L780.5 386.7 L781.2 388.6 L781.9 390.5 L782.5 392.4 L783.2 394.4 L783.9 396.3 L784.5 398.2 L785.2 400.1 L785.8 402.0 L786.5 403.9 L787.2 405.8 L787.8 407.8 L788.5 409.7 L789.2 411.6 L789.8 413.5 L790.5 415.4 L791.2 417.3 L791.9 419.2 L792.5 421.1 L793.2 423.0 L793.9 424.9 L794.6 426.8 L795.3 428.8 L795.9 430.7 L796.6 432.6 L797.3 434.5 L798.0 436.4 L798.7 438.3 L799.4 440.2 L800.1 442.1 L800.8 444.0 L801.5 445.9 L802.2 447.8 L802.9 449.7 L803.6 451.6 L804.3 453.4 L805.0 455.3 L805.7 457.2 L806.4 459.1 L807.1 461.0 L807.8 462.9 L808.5 464.8 L809.2 466.7 L809.9 468.6 L810.6 470.5 L811.3 472.4 L812.1 474.2 L812.8 476.1 L813.5 478.0 L814.2 479.9 L815.0 481.8 L815.7 483.7 L816.4 485.6 L817.1 487.4 L817.9 489.3 L818.6 491.2 L819.3 493.1 L820.1 495.0 L820.8 496.8 L821.6 498.7 L822.3 500.6 L823.0 502.5 L823.8 504.4 L824.5 506.2 L825.3 508.1 L826.0 510.0 L826.8 511.9 L827.5 513.7 L828.3 515.6 L829.0 517.5 L829.8 519.4 L830.5 521.2 L831.3 523.1 L832.1 525.0 L832.8 526.8 L833.6 528.7 L834.4 530.6 L835.1 532.4 L835.9 534.3 L836.7 536.2 L837.5 538.0 L838.2 539.9 L839.0 541.8 L839.8 543.6 L840.6 545.5 L841.3 547.4 L842.1 549.2 L842.9 551.1 L843.7 553.0 L844.5 554.8 L845.3 556.7 L846.1 558.5 L846.9 560.4 L847.7 562.3 L848.5 564.1 L849.3 566.0 L850.1 567.8 L850.9 569.7 L851.7 571.6 L852.5 573.4 L853.3 575.3 L854.1 577.1 L854.9 579.0 L855.7 580.8 L856.5 582.7 L857.4 584.5 L858.2 586.4 L859.0 588.2 L859.8 590.1 L860.7 591.9 L861.5 593.8 L862.3 595.6 L863.2 597.5 L864.0 599.3 L864.8 601.1 L865.7 603.0 L866.5 604.8 L867.4 606.7 L868.2 608.5 L869.1 610.3 L870.0 612.2 L870.8 614.0 L871.7 615.8 L872.6 617.6 L873.4 619.5 L874.3 621.3 L875.2 623.1 L876.1 624.9 L877.0 626.8 L877.8 628.6 L878.7 630.4 L879.6 632.2 L880.5 634.0 L881.4 635.8 L882.3 637.6 L883.2 639.4 L884.2 641.3 L885.1 643.1 L886.0 644.9 L886.9 646.7 L887.9 648.5 L888.8 650.2 L889.7 652.0 L890.7 653.8 L891.6 655.6 L892.6 657.4 L893.5 659.2 L894.5 661.0 L895.4 662.8 L896.4 664.5 L897.4 666.3 L898.3 668.1 L899.3 669.8 L900.3 671.6 L901.3 673.4 L902.3 675.1 L903.3 676.9 L904.3 678.6 L905.3 680.4 L906.3 682.2 L907.3 683.9 L908.3 685.6 L909.4 687.4 L910.4 689.1 L911.4 690.9 L912.5 692.6 L913.5 694.3 L914.6 696.1 L915.6 697.8 L916.7 699.5 L917.8 701.2 L918.8 702.9 L919.9 704.6 L921.0 706.3 L922.1 708.1 L923.2 709.8 L924.3 711.5 L925.4 713.1 L926.5 714.8 L927.6 716.5 L928.8 718.2 L929.9 719.9 L931.0 721.6 L932.2 723.2 L933.3 724.9 L934.5 726.6 L935.6 728.2 L936.8 729.9 L938.0 731.6 L939.1 733.2 L940.3 734.9 L941.5 736.5 L942.7 738.1 L943.9 739.8 L945.1 741.4 L946.3 743.0 L947.5 744.7 L948.8 746.3 L950.0 747.9 L951.3 749.5 L952.5 751.1 L953.8 752.7 L955.0 754.3 L956.3 755.8 L957.6 757.4 L958.8 759.0 L960.1 760.6 L961.4 762.1 L962.7 763.7 L964.0 765.2 L965.3 766.8 L966.7 768.3 L968.0 769.8 L969.3 771.3 L970.7 772.9 L972.0 774.4 L973.4 775.9 L974.8 777.4 L976.1 778.8 L977.5 780.3 L978.9 781.8 L980.3 783.3 L981.7 784.7 L983.1 786.2 L984.5 787.6 L985.9 789.0 L987.4 790.5 L988.8 791.9 L990.3 793.3 L991.7 794.7 L993.2 796.1 L994.6 797.5 L996.1 798.8 L997.6 800.2 L999.1 801.6 L1000.6 802.9 L1002.1 804.2 L1003.6 805.6 L1005.1 806.9 L1006.7 808.2 L1008.2 809.5 L1009.8 810.8 L1011.3 812.1 L1012.9 813.3 L1014.5 814.6 L1016.0 815.8 L1017.6 817.1 L1019.2 818.3 L1020.8 819.5 L1022.4 820.8 L1024.1 822.0 L1025.7 823.1 L1027.3 824.3 L1029.0 825.5 L1030.6 826.7 L1032.3 827.8 L1033.9 829.0 L1035.6 830.1 L1037.3 831.2 L1039.0 832.3 L1040.6 833.4 L1042.3 834.5 L1044.0 835.6 L1045.7 836.7 L1047.5 837.8 L1049.2 838.8 L1050.9 839.9 L1052.6 840.9 L1054.4 842.0 L1056.1 843.0 L1057.9 844.0 L1059.6 845.0 L1061.4 846.0 L1063.2 847.0 L1064.9 847.9 L1066.7 848.9 L1068.5 849.9 L1070.3 850.8 L1072.1 851.7 L1073.9 852.7 L1075.7 853.6 L1077.5 854.5 L1079.3 855.4 L1081.1 856.3 L1082.9 857.2 L1084.8 858.0 L1086.6 858.9 L1088.4 859.7 L1090.3 860.6 L1092.1 861.4 L1094.0 862.3 L1095.8 863.1 L1097.7 863.9 L1099.5 864.7 L1101.4 865.5 L1103.3 866.2 L1105.1 867.0 L1107.0 867.8 L1108.9 868.5 L1110.8 869.3 L1112.6 870.0 L1114.5 870.7 L1116.4 871.4 L1118.3 872.1 L1120.2 872.8 L1122.1 873.5 L1124.0 874.2 L1125.9 874.9 L1127.8 875.5 L1129.7 876.2 L1131.7 876.8 L1133.6 877.5 L1135.5 878.1 L1137.4 878.7 L1139.3 879.3 L1141.3 879.9 L1143.2 880.5 L1145.1 881.1 L1147.0 881.7 L1149.0 882.2 L1150.9 882.8 L1152.8 883.3 L1154.8 883.9 L1156.7 884.4 L1158.7 884.9 L1160.6 885.4 L1162.5 885.9 L1164.5 886.4 L1166.4 886.9 L1168.4 887.4 L1170.3 887.8 L1172.3 888.3 L1174.2 888.8 L1176.2 889.2 L1178.1 889.6 L1180.1 890.1 L1182.0 890.5 L1184.0 890.9 L1186.0 891.3 L1187.9 891.7 L1189.9 892.1 L1191.9 892.5 L1193.8 892.9 L1195.8 893.3 L1197.8 893.6 L1199.7 894.0 L1201.7 894.3 L1203.7 894.7 L1205.6 895.0 L1207.6 895.3 L1209.6 895.7 L1211.6 896.0 L1213.5 896.3 L1215.5 896.6 L1217.5 896.9 L1219.5 897.2 L1221.5 897.5 L1223.4 897.8 L1225.4 898.0 L1227.4 898.3 L1229.4 898.6 L1231.4 898.8 L1233.4 899.1 L1235.4 899.3 L1237.4 899.6 L1239.3 899.8 L1241.3 900.0 L1243.3 900.2 L1245.3 900.5 L1247.3 900.7 L1249.3 900.9 L1251.3 901.1 L1253.3 901.3 L1255.3 901.5 L1257.3 901.7 L1259.3 901.9 L1261.3 902.1 L1263.3 902.2 L1265.3 902.4 L1267.3 902.6 L1269.3 902.7 L1271.3 902.9 L1273.3 903.1 L1275.4 903.2 L1277.4 903.4 L1279.4 903.5 L1281.4 903.6 L1283.4 903.8 L1285.4 903.9 L1287.4 904.0 L1289.4 904.2 L1291.4 904.3 L1293.5 904.4 L1295.5 904.5 L1297.5 904.6 L1299.5 904.8 L1301.5 904.9 L1303.5 905.0 L1305.5 905.1 L1307.6 905.2 L1309.6 905.3 L1311.6 905.4 L1313.6 905.5 L1315.6 905.5 L1317.7 905.6 L1319.7 905.7 L1321.7 905.8 L1323.7 905.9 L1325.8 906.0 L1327.8 906.0 L1329.8 906.1 L1331.8 906.2 L1333.8 906.3 L1335.9 906.3 L1337.9 906.4 L1339.9 906.5 L1341.9 906.5 L1344.0 906.6 L1346.0 906.7 L1348.0 906.7 L1350.0 906.8 L1352.1 906.9 L1354.1 906.9 L1356.1 907.0 L1358.2 907.0 L1360.2 907.1 L1362.2 907.1 L1364.2 907.2 L1366.3 907.3 L1368.3 907.3 L1370.3 907.4 L1372.3 907.4 L1374.4 907.5 L1376.4 907.5 L1378.4 907.6 L1380.5 907.7 L1382.5 907.7 L1384.5 907.8 L1386.5 907.8 L1388.6 907.9 L1390.6 907.9 L1392.6 908.0 L1394.7 908.1 L1396.0 908.1" stroke="#ff0000"/>
<path d="M303.0 875.3 L304.7 876.0 L306.5 876.7 L308.2 877.3 L309.9 878.0 L311.7 878.6 L313.4 879.2 L315.1 879.8 L316.9 880.4 L318.6 881.0 L320.4 881.6 L322.1 882.2 L323.9 882.7 L325.6 883.3 L327.4 883.8 L329.1 884.3 L330.9 884.9 L332.7 885.4 L334.4 885.8 L336.2 886.3 L338.0 886.8 L339.7 887.3 L341.5 887.7 L343.3 888.1 L345.1 888.6 L346.9 889.0 L348.6 889.4 L350.4 889.7 L352.2 890.1 L354.0 890.5 L355.8 890.8 L357.6 891.2 L359.4 891.5 L361.2 891.8 L363.0 892.1 L364.8 892.4 L366.6 892.7 L368.4 892.9 L370.2 893.2 L372.0 893.4 L373.8 893.6 L375.6 893.8 L377.4 894.0 L379.2 894.2 L381.0 894.4 L382.8 894.6 L384.6 894.7 L386.4 894.8 L388.2 895.0 L390.0 895.1 L391.8 895.2 L393.7 895.3 L395.5 895.4 L397.3 895.4 L399.1 895.5 L400.9 895.5 L402.7 895.6 L404.5 895.6 L406.4 895.6 L408.2 895.6 L410.0 895.6 L411.8 895.6 L413.6 895.6 L415.4 895.5 L417.3 895.5 L419.1 895.4 L420.9 895.4 L422.7 895.3 L424.5 895.2 L426.4 895.1 L428.2 895.0 L430.0 894.9 L431.8 894.8 L433.6 894.7 L435.5 894.5 L437.3 894.4 L439.1 894.3 L440.9 894.1 L442.7 894.0 L444.6 893.8 L446.4 893.6 L448.2 893.5 L450.0 893.3 L451.8 893.1 L453.7 892.9 L455.5 892.7 L457.3 892.6 L459.1 892.4 L460.9 892.2 L462.8 892.0 L464.6 891.8 L466.4 891.6 L468.2 891.4 L470.1 891.2 L471.9 891.0 L473.7 890.8 L475.5 890.6 L477.4 890.4 L479.2 890.2 L481.0 890.0 L482.8 889.8 L484.6 889.6 L486.5 889.4 L488.3 889.2 L490.1 889.0 L491.9 888.9 L493.8 888.7 L495.6 888.5 L497.4 888.3 L499.2 888.2 L501.1 888.0 L502.9 887.8 L504.7 887.6 L506.5 887.5 L508.4 887.3 L510.2 887.2 L512.0 887.0 L513.8 886.9 L515.7 886.7 L517.5 886.6 L519.3 886.4 L521.1 886.3 L523.0 886.1 L524.8 886.0 L526.6 885.9 L528.4 885.7 L530.3 885.6 L532.1 885.5 L533.9 885.4 L535.8 885.3 L537.6 885.1 L539.4 885.0 L541.2 884.9 L543.1 884.8 L544.9 884.7 L546.7 884.6 L548.5 884.5 L550.4 884.5 L552.2 884.4 L554.0 884.3 L555.8 884.2 L557.7 884.1 L559.5 884.1 L561.3 884.0 L563.1 883.9 L565.0 883.9 L566.8 883.8 L568.6 883.8 L570.4 883.7 L572.3 883.7 L574.1 883.6 L575.9 883.6 L577.7 883.6 L579.6 883.5 L581.4 883.5 L583.2 883.5 L585.0 883.4 L586.9 883.4 L588.7 883.4 L590.5 883.4 L592.4 883.4 L594.2 883.4 L596.0 883.4 L597.8 883.4 L599.7 883.4 L601.5 883.4 L603.3 883.4 L605.1 883.4 L607.0 883.4 L608.8 883.4 L610.6 883.4 L612.4 883.5 L614.3 883.5 L616.1 883.5 L617.9 883.5 L619.7 883.6 L621.5 883.6 L623.4 883.6 L625.2 883.7 L627.0 883.7 L628.8 883.8 L630.7 883.8 L632.5 883.9 L634.3 883.9 L636.1 884.0 L638.0 884.0 L639.8 884.1 L641.6 884.1 L643.4 884.2 L645.3 884.3 L647.1 884.3 L648.9 884.4 L650.7 884.5 L652.6 884.6 L654.4 884.6 L656.2 884.7 L658.0 884.8 L659.9 884.9 L661.7 885.0 L663.5 885.0 L665.3 885.1 L667.2 885.2 L669.0 885.3 L670.8 885.4 L672.6 885.5 L674.5 885.6 L676.3 885.7 L678.1 885.8 L679.9 885.9 L681.8 886.0 L683.6 886.1 L685.4 886.2 L687.2 886.3 L689.0 886.4 L690.9 886.6 L692.7 886.7 L694.5 886.8 L696.3 886.9 L698.2 887.0 L700.0 887.1 L701.8 887.3 L703.6 887.4 L705.5 887.5 L707.3 887.6 L709.1 887.8 L710.9 887.9 L712.8 888.0 L714.6 888.1 L716.4 888.3 L718.2 888.4 L720.1 888.5 L721.9 888.7 L723.7 888.8 L725.5 888.9 L727.4 889.1 L729.2 889.2 L731.0 889.4 L732.8 889.5 L734.7 889.6 L736.5 889.8 L738.3 889.9 L740.1 890.1 L741.9 890.2 L743.8 890.4 L745.6 890.5 L747.4 890.6 L749.2 890.8 L751.1 890.9 L752.9 891.1 L754.7 891.2 L756.5 891.4 L758.4 891.5 L760.2 891.7 L762.0 891.8 L763.8 892.0 L765.7 892.1 L767.5 892.3 L769.3 892.4 L771.1 892.6 L773.0 892.8 L774.8 892.9 L776.6 893.1 L778.4 893.2 L780.3 893.4 L782.1 893.5 L783.9 893.7 L785.7 893.8 L787.6 894.0 L789.4 894.1 L791.2 894.3 L793.0 894.4 L794.9 894.6 L796.7 894.7 L798.5 894.9 L800.3 895.1 L802.1 895.2 L804.0 895.4 L805.8 895.5 L807.6 895.7 L809.4 895.8 L811.3 896.0 L813.1 896.1 L814.9 896.3 L816.7 896.4 L818.6 896.6 L820.4 896.7 L822.2 896.9 L824.0 897.0 L825.9 897.2 L827.7 897.3 L829.5 897.5 L831.3 897.6 L833.2 897.8 L835.0 897.9 L836.8 898.0 L838.6 898.2 L840.5 898.3 L842.3 898.5 L844.1 898.6 L845.9 898.8 L847.8 898.9 L849.6 899.0 L851.4 899.2 L853.2 899.3 L855.1 899.4 L856.9 899.6 L858.7 899.7 L860.5 899.8 L862.4 900.0 L864.2 900.1 L866.0 900.2 L867.9 900.4 L869.7 900.5 L871.5 900.6 L873.3 900.7 L875.2 900.9 L877.0 901.0 L878.8 901.1 L880.6 901.2 L882.5 901.4 L884.3 901.5 L886.1 901.6 L887.9 901.7 L889.8 901.8 L891.6 901.9 L893.4 902.0 L895.2 902.2 L897.1 902.3 L898.9 902.4 L900.7 902.5 L902.5 902.6 L904.4 902.7 L906.2 902.8 L908.0 902.9 L909.9 903.0 L911.7 903.1 L913.5 903.2 L915.3 903.3 L917.2 903.4 L919.0 903.5 L920.8 903.6 L922.6 903.7 L924.5 903.8 L926.3 903.9 L928.1 904.0 L929.9 904.1 L931.8 904.2 L933.6 904.3 L935.4 904.4 L937.3 904.5 L939.1 904.6 L940.9 904.7 L942.7 904.8 L944.6 904.8 L946.4 904.9 L948.2 905.0 L950.0 905.1 L951.9 905.2 L953.7 905.3 L955.5 905.4 L957.4 905.4 L959.2 905.5 L961.0 905.6 L962.8 905.7 L964.7 905.8 L966.5 905.8 L968.3 905.9 L970.1 906.0 L972.0 906.1 L973.8 906.1 L975.6 906.2 L977.5 906.3 L979.3 906.4 L981.1 906.4 L982.9 906.5 L984.8 906.6 L986.6 906.6 L988.4 906.7 L990.2 906.8 L992.1 906.8 L993.9 906.9 L995.7 907.0 L997.6 907.0 L999.4 907.1 L1001.2 907.2 L1003.0 907.2 L1004.9 907.3 L1006.7 907.4 L1008.5 907.4 L1010.4 907.5 L1012.2 907.5 L1014.0 907.6 L1015.8 907.7 L1017.7 907.7 L1019.5 907.8 L1021.3 907.8 L1023.2 907.9 L1025.0 907.9 L1026.8 908.0 L1028.6 908.0 L1030.5 908.1 L1032.3 908.2 L1034.1 908.2 L1036.0 908.3 L1037.8 908.3 L1039.6 908.4 L1041.4 908.4 L1043.3 908.5 L1045.1 908.5 L1046.9 908.6 L1048.8 908.6 L1050.6 908.6 L1052.4 908.7 L1054.2 908.7 L1056.1 908.8 L1057.9 908.8 L1059.7 908.9 L1061.6 908.9 L1063.4 909.0 L1065.2 909.0 L1067.0 909.1 L1068.9 909.1 L1070.7 909.1 L1072.5 909.2 L1074.4 909.2 L1076.2 909.3 L1078.0 909.3 L1079.8 909.3 L1081.7 909.4 L1083.5 909.4 L1085.3 909.5 L1087.2 909.5 L1089.0 909.5 L1090.8 909.6 L1092.6 909.6 L1094.5 909.6 L1096.3 909.7 L1098.1 909.7 L1100.0 909.7 L1101.8 909.8 L1103.6 909.8 L1105.4 909.8 L1107.3 909.9 L1109.1 909.9 L1110.9 909.9 L1112.8 910.0 L1114.6 910.0 L1116.4 910.0 L1118.3 910.1 L1120.1 910.1 L1121.9 910.1 L1123.7 910.2 L1125.6 910.2 L1127.4 910.2 L1129.2 910.2 L1131.1 910.3 L1132.9 910.3 L1134.7 910.3 L1136.5 910.4 L1138.4 910.4 L1140.2 910.4 L1142.0 910.4 L1143.9 910.5 L1145.7 910.5 L1147.5 910.5 L1149.4 910.5 L1151.2 910.6 L1153.0 910.6 L1154.8 910.6 L1156.7 910.6 L1158.5 910.7 L1160.3 910.7 L1162.2 910.7 L1164.0 910.7 L1165.8 910.8 L1167.6 910.8 L1169.5 910.8 L1171.3 910.8 L1173.1 910.9 L1175.0 910.9 L1176.8 910.9 L1178.6 910.9 L1180.5 910.9 L1182.3 911.0 L1184.1 911.0 L1185.9 911.0 L1187.8 911.0 L1189.6 911.1 L1191.4 911.1 L1193.3 911.1 L1195.1 911.1 L1196.9 911.1 L1198.8 911.2 L1200.6 911.2 L1202.4 911.2 L1204.2 911.2 L1206.1 911.2 L1207.9 911.3 L1209.7 911.3 L1211.6 911.3 L1213.4 911.3 L1215.2 911.3 L1217.0 911.4 L1218.9 911.4 L1220.7 911.4 L1222.5 911.4 L1224.4 911.4 L1226.2 911.5 L1228.0 911.5 L1229.9 911.5 L1231.7 911.5 L1233.5 911.5 L1235.3 911.6 L1237.2 911.6 L1239.0 911.6 L1240.8 911.6 L1242.7 911.6 L1244.5 911.7 L1246.3 911.7 L1248.2 911.7 L1250.0 911.7 L1251.8 911.7 L1253.6 911.8 L1255.5 911.8 L1257.3 911.8 L1259.1 911.8 L1261.0 911.8 L1262.8 911.9 L1264.6 911.9 L1266.5 911.9 L1268.3 911.9 L1270.1 911.9 L1271.9 912.0 L1273.8 912.0 L1275.6 912.0 L1277.4 912.0 L1279.3 912.1 L1281.1 912.1 L1282.9 912.1 L1284.8 912.1 L1286.6 912.1 L1288.4 912.2 L1290.2 912.2 L1292.1 912.2 L1293.9 912.2 L1295.7 912.3 L1297.6 912.3 L1299.4 912.3 L1301.2 912.3 L1303.1 912.3 L1304.9 912.4 L1306.7 912.4 L1308.5 912.4 L1310.4 912.4 L1312.2 912.5 L1314.0 912.5 L1315.9 912.5 L1317.7 912.5 L1319.5 912.6 L1321.3 912.6 L1323.2 912.6 L1325.0 912.6 L1326.8 912.7 L1328.7 912.7 L1330.5 912.7 L1332.3 912.8 L1334.2 912.8 L1336.0 912.8 L1337.8 912.8 L1339.6 912.9 L1341.5 912.9 L1343.3 912.9 L1345.1 913.0 L1347.0 913.0 L1348.8 913.0 L1350.6 913.0 L1352.5 913.1 L1354.3 913.1 L1356.1 913.1 L1357.9 913.2 L1359.8 913.2 L1361.6 913.2 L1363.4 913.3 L1365.3 913.3 L1367.1 913.3 L1368.9 913.4 L1370.8 913.4 L1372.6 913.4 L1374.4 913.5 L1376.2 913.5 L1378.1 913.5 L1379.9 913.6 L1381.7 913.6 L1383.6 913.7 L1385.4 913.7 L1387.2 913.7 L1389.0 913.8 L1390.9 913.8 L1392.7 913.9 L1394.5 913.9 L1396.0 913.9" stroke="#ff00ff"/>
<path d="M349.2 785.3 L349.7 786.8 L350.3 788.3 L350.8 789.8 L351.3 791.3 L351.8 792.8 L352.4 794.3 L352.9 795.8 L353.5 797.3 L354.1 798.8 L354.7 800.3 L355.3 801.9 L355.9 803.4 L356.5 804.9 L357.1 806.4 L357.8 808.0 L358.4 809.5 L359.1 811.0 L359.8 812.5 L360.4 814.0 L361.1 815.5 L361.8 817.0 L362.6 818.5 L363.3 820.0 L364.1 821.5 L364.8 823.0 L365.6 824.4 L366.4 825.9 L367.2 827.3 L368.0 828.8 L368.9 830.2 L369.7 831.6 L370.6 833.0 L371.5 834.4 L372.4 835.7 L373.3 837.1 L374.2 838.4 L375.2 839.7 L376.1 841.0 L377.1 842.3 L378.1 843.5 L379.1 844.8 L380.2 846.0 L381.2 847.2 L382.3 848.3 L383.4 849.5 L384.5 850.6 L385.6 851.7 L386.8 852.8 L387.9 853.8 L389.1 854.8 L390.3 855.8 L391.6 856.8 L392.8 857.7 L394.1 858.6 L395.4 859.5 L396.7 860.4 L398.0 861.2 L399.4 862.0 L400.7 862.7 L402.1 863.4 L403.6 864.1 L405.0 864.7 L406.5 865.3 L407.9 865.9 L409.5 866.4 L411.0 866.9 L412.5 867.4 L414.1 867.8 L415.7 868.2 L417.3 868.5 L418.9 868.8 L420.5 869.0 L422.1 869.2 L423.7 869.4 L425.3 869.5 L426.9 869.5 L428.5 869.5 L430.2 869.5 L431.8 869.4 L433.4 869.3 L435.0 869.1 L436.6 868.8 L438.1 868.5 L439.7 868.1 L441.3 867.7 L442.8 867.3 L444.3 866.7 L445.8 866.2 L447.3 865.6 L448.8 864.9 L450.3 864.2 L451.8 863.5 L453.2 862.8 L454.6 862.0 L456.1 861.2 L457.5 860.4 L458.9 859.5 L460.3 858.6 L461.7 857.7 L463.1 856.8 L464.4 855.9 L465.8 855.0 L467.1 854.1 L468.5 853.2 L469.8 852.2 L471.1 851.3 L472.5 850.4 L473.8 849.4 L475.1 848.5 L476.4 847.6 L477.7 846.6 L479.0 845.6 L480.2 844.7 L481.5 843.7 L482.8 842.7 L484.0 841.7 L485.2 840.7 L486.5 839.7 L487.7 838.7 L488.9 837.6 L490.1 836.6 L491.4 835.5 L492.6 834.5 L493.7 833.4 L494.9 832.3 L496.1 831.2 L497.3 830.1 L498.4 828.9 L499.6 827.8 L500.7 826.6 L501.9 825.5 L503.0 824.3 L504.1 823.1 L505.3 822.0 L506.4 820.8 L507.5 819.6 L508.6 818.4 L509.7 817.2 L510.8 816.0 L511.8 814.7 L512.9 813.5 L514.0 812.3 L515.0 811.0 L516.0 809.8 L517.1 808.6 L518.1 807.3 L519.1 806.1 L520.2 804.8 L521.2 803.6 L522.2 802.3 L523.2 801.1 L524.2 799.8 L525.2 798.5 L526.1 797.3 L527.1 796.0 L528.1 794.7 L529.1 793.5 L530.0 792.2 L531.0 790.9 L532.0 789.6 L532.9 788.3 L533.9 787.1 L534.8 785.8 L535.8 784.5 L536.7 783.2 L537.7 781.9 L538.6 780.6 L539.6 779.3 L540.5 778.0 L541.5 776.8 L542.4 775.5 L543.4 774.2 L544.3 772.9 L545.3 771.6 L546.2 770.3 L547.2 769.0 L548.2 767.7 L549.1 766.4 L550.1 765.1 L551.0 763.8 L552.0 762.5 L553.0 761.2 L554.0 759.9 L554.9 758.6 L555.9 757.3 L556.9 756.0 L557.9 754.7 L558.9 753.4 L559.9 752.1 L560.9 750.9 L561.9 749.6 L563.0 748.3 L564.0 747.0 L565.0 745.7 L566.1 744.4 L567.1 743.2 L568.2 741.9 L569.3 740.6 L570.3 739.3 L571.4 738.0 L572.5 736.8 L573.6 735.5 L574.7 734.2 L575.8 733.0 L577.0 731.7 L578.1 730.5 L579.3 729.2 L580.4 728.0 L581.6 726.8 L582.8 725.5 L583.9 724.3 L585.1 723.1 L586.3 721.9 L587.6 720.7 L588.8 719.5 L590.0 718.4 L591.2 717.2 L592.5 716.1 L593.7 714.9 L595.0 713.8 L596.3 712.7 L597.5 711.6 L598.8 710.6 L600.1 709.5 L601.4 708.5 L602.7 707.5 L604.1 706.5 L605.4 705.5 L606.7 704.5 L608.1 703.6 L609.4 702.6 L610.8 701.7 L612.1 700.9 L613.5 700.0 L614.9 699.2 L616.3 698.4 L617.7 697.6 L619.1 696.8 L620.5 696.1 L621.9 695.4 L623.4 694.7 L624.8 694.0 L626.2 693.4 L627.7 692.8 L629.1 692.2 L630.6 691.7 L632.1 691.2 L633.6 690.7 L635.0 690.3 L636.5 689.9 L638.0 689.5 L639.5 689.1 L641.1 688.8 L642.6 688.6 L644.1 688.3 L645.6 688.1 L647.2 688.0 L648.7 687.8 L650.3 687.7 L651.8 687.7 L653.4 687.7 L655.0 687.7 L656.6 687.8 L658.1 687.9 L659.7 688.0 L661.3 688.2 L662.9 688.5 L664.5 688.7 L666.1 689.0 L667.7 689.3 L669.4 689.7 L671.0 690.1 L672.6 690.5 L674.2 691.0 L675.8 691.5 L677.4 692.0 L679.0 692.5 L680.6 693.0 L682.2 693.6 L683.8 694.2 L685.4 694.8 L686.9 695.5 L688.5 696.1 L690.1 696.8 L691.6 697.5 L693.2 698.2 L694.7 698.9 L696.3 699.7 L697.8 700.4 L699.3 701.1 L700.8 701.9 L702.2 702.7 L703.7 703.4 L705.2 704.2 L706.6 705.0 L708.0 705.8 L709.5 706.6 L710.9 707.4 L712.3 708.2 L713.7 709.0 L715.1 709.8 L716.5 710.7 L717.8 711.5 L719.2 712.3 L720.6 713.2 L721.9 714.0 L723.3 714.9 L724.6 715.8 L726.0 716.6 L727.3 717.5 L728.7 718.4 L730.0 719.3 L731.4 720.2 L732.7 721.1 L734.1 722.0 L735.4 722.9 L736.7 723.8 L738.1 724.7 L739.4 725.6 L740.7 726.5 L742.0 727.4 L743.4 728.4 L744.7 729.3 L746.0 730.2 L747.3 731.2 L748.6 732.1 L749.9 733.1 L751.3 734.0 L752.6 735.0 L753.9 735.9 L755.2 736.9 L756.5 737.9 L757.8 738.8 L759.1 739.8 L760.4 740.8 L761.7 741.7 L763.0 742.7 L764.3 743.7 L765.6 744.7 L766.9 745.7 L768.2 746.6 L769.5 747.6 L770.8 748.6 L772.1 749.6 L773.4 750.6 L774.7 751.6 L776.0 752.6 L777.2 753.6 L778.5 754.6 L779.8 755.6 L781.1 756.6 L782.4 757.6 L783.7 758.6 L785.0 759.6 L786.3 760.6 L787.6 761.6 L788.9 762.6 L790.2 763.6 L791.4 764.6 L792.7 765.6 L794.0 766.6 L795.3 767.6 L796.6 768.6 L797.9 769.6 L799.2 770.6 L800.5 771.6 L801.8 772.6 L803.1 773.6 L804.4 774.6 L805.7 775.6 L807.0 776.6 L808.2 777.6 L809.5 778.6 L810.8 779.6 L812.1 780.6 L813.4 781.6 L814.7 782.6 L816.1 783.5 L817.4 784.5 L818.7 785.5 L820.0 786.5 L821.3 787.5 L822.6 788.4 L823.9 789.4 L825.2 790.4 L826.5 791.4 L827.8 792.3 L829.2 793.3 L830.5 794.2 L831.8 795.2 L833.1 796.2 L834.5 797.1 L835.8 798.1 L837.1 799.0 L838.4 799.9 L839.8 800.9 L841.1 801.8 L842.4 802.7 L843.8 803.7 L845.1 804.6 L846.5 805.5 L847.8 806.4 L849.2 807.3 L850.5 808.2 L851.9 809.1 L853.3 810.0 L854.6 810.9 L856.0 811.8 L857.3 812.7 L858.7 813.6 L860.1 814.4 L861.5 815.3 L862.8 816.2 L864.2 817.0 L865.6 817.9 L867.0 818.7 L868.4 819.5 L869.8 820.4 L871.2 821.2 L872.6 822.0 L874.0 822.9 L875.4 823.7 L876.8 824.5 L878.2 825.3 L879.6 826.1 L881.0 826.9 L882.5 827.7 L883.9 828.5 L885.3 829.2 L886.7 830.0 L888.2 830.8 L889.6 831.6 L891.0 832.3 L892.5 833.1 L893.9 833.8 L895.3 834.6 L896.8 835.3 L898.2 836.0 L899.7 836.8 L901.1 837.5 L902.6 838.2 L904.0 838.9 L905.5 839.7 L906.9 840.4 L908.4 841.1 L909.9 841.8 L911.3 842.5 L912.8 843.1 L914.3 843.8 L915.8 844.5 L917.2 845.2 L918.7 845.8 L920.2 846.5 L921.7 847.2 L923.1 847.8 L924.6 848.5 L926.1 849.1 L927.6 849.8 L929.1 850.4 L930.6 851.0 L932.1 851.6 L933.6 852.3 L935.1 852.9 L936.6 853.5 L938.1 854.1 L939.6 854.7 L941.1 855.3 L942.6 855.9 L944.1 856.5 L945.6 857.1 L947.1 857.6 L948.7 858.2 L950.2 858.8 L951.7 859.3 L953.2 859.9 L954.7 860.5 L956.3 861.0 L957.8 861.6 L959.3 862.1 L960.8 862.6 L962.4 863.2 L963.9 863.7 L965.4 864.2 L967.0 864.7 L968.5 865.3 L970.1 865.8 L971.6 866.3 L973.1 866.8 L974.7 867.3 L976.2 867.8 L977.8 868.3 L979.3 868.7 L980.9 869.2 L982.4 869.7 L984.0 870.2 L985.5 870.6 L987.1 871.1 L988.6 871.6 L990.2 872.0 L991.7 872.5 L993.3 872.9 L994.9 873.4 L996.4 873.8 L998.0 874.2 L999.6 874.7 L1001.1 875.1 L1002.7 875.5 L1004.3 875.9 L1005.8 876.3 L1007.4 876.8 L1009.0 877.2 L1010.5 877.6 L1012.1 878.0 L1013.7 878.4 L1015.3 878.8 L1016.8 879.2 L1018.4 879.5 L1020.0 879.9 L1021.6 880.3 L1023.2 880.7 L1024.7 881.0 L1026.3 881.4 L1027.9 881.8 L1029.5 882.1 L1031.1 882.5 L1032.7 882.8 L1034.3 883.2 L1035.9 883.5 L1037.4 883.9 L1039.0 884.2 L1040.6 884.6 L1042.2 884.9 L1043.8 885.2 L1045.4 885.6 L1047.0 885.9 L1048.6 886.2 L1050.2 886.5 L1051.8 886.8 L1053.4 887.1 L1055.0 887.5 L1056.6 887.8 L1058.2 888.1 L1059.8 888.4 L1061.4 888.7 L1063.0 888.9 L1064.6 889.2 L1066.2 889.5 L1067.8 889.8 L1069.4 890.1 L1071.0 890.4 L1072.7 890.6 L1074.3 890.9 L1075.9 891.2 L1077.5 891.4 L1079.1 891.7 L1080.7 892.0 L1082.3 892.2 L1083.9 892.5 L1085.5 892.7 L1087.1 893.0 L1088.8 893.2 L1090.4 893.5 L1092.0 893.7 L1093.6 893.9 L1095.2 894.2 L1096.8 894.4 L1098.5 894.7 L1100.1 894.9 L1101.7 895.1 L1103.3 895.3 L1104.9 895.6 L1106.5 895.8 L1108.2 896.0 L1109.8 896.2 L1111.4 896.4 L1113.0 896.6 L1114.6 896.8 L1116.3 897.0 L1117.9 897.2 L1119.5 897.4 L1121.1 897.6 L1122.7 897.8 L1124.4 898.0 L1126.0 898.2 L1127.6 898.4 L1129.2 898.6 L1130.8 898.8 L1132.5 899.0 L1134.1 899.1 L1135.7 899.3 L1137.3 899.5 L1138.9 899.7 L1140.6 899.8 L1142.2 900.0 L1143.8 900.2 L1145.4 900.3 L1147.1 900.5 L1148.7 900.7 L1150.3 900.8 L1151.9 901.0 L1153.6 901.2 L1155.2 901.3 L1156.8 901.5 L1158.4 901.6 L1160.1 901.8 L1161.7 901.9 L1163.3 902.1 L1164.9 902.2 L1166.6 902.3 L1168.2 902.5 L1169.8 902.6 L1171.4 902.8 L1173.1 902.9 L1174.7 903.0 L1176.3 903.2 L1177.9 903.3 L1179.6 903.4 L1181.2 903.5 L1182.8 903.7 L1184.5 903.8 L1186.1 903.9 L1187.7 904.0 L1189.3 904.2 L1191.0 904.3 L1192.6 904.4 L1194.2 904.5 L1195.8 904.6 L1197.5 904.7 L1199.1 904.8 L1200.7 904.9 L1202.4 905.1 L1204.0 905.2 L1205.6 905.3 L1207.2 905.4 L1208.9 905.5 L1210.5 905.6 L1212.1 905.7 L1213.8 905.8 L1215.4 905.9 L1217.0 906.0 L1218.6 906.0 L1220.3 906.1 L1221.9 906.2 L1223.5 906.3 L1225.2 906.4 L1226.8 906.5 L1228.4 906.6 L1230.1 906.7 L1231.7 906.7 L1233.3 906.8 L1234.9 906.9 L1236.6 907.0 L1238.2 907.1 L1239.8 907.1 L1241.5 907.2 L1243.1 907.3 L1244.7 907.4 L1246.4 907.5 L1248.0 907.5 L1249.6 907.6 L1251.3 907.7 L1252.9 907.7 L1254.5 907.8 L1256.1 907.9 L1257.8 907.9 L1259.4 908.0 L1261.0 908.1 L1262.7 908.1 L1264.3 908.2 L1265.9 908.3 L1267.6 908.3 L1269.2 908.4 L1270.8 908.5 L1272.5 908.5 L1274.1 908.6 L1275.7 908.6 L1277.4 908.7 L1279.0 908.7 L1280.6 908.8 L1282.3 908.9 L1283.9 908.9 L1285.5 909.0 L1287.1 909.0 L1288.8 909.1 L1290.4 909.1 L1292.0 909.2 L1293.7 909.2 L1295.3 909.3 L1296.9 909.3 L1298.6 909.4 L1300.2 909.4 L1301.8 909.5 L1303.5 909.5 L1305.1 909.6 L1306.7 909.6 L1308.4 909.7 L1310.0 909.7 L1311.6 909.8 L1313.3 909.8 L1314.9 909.9 L1316.5 909.9 L1318.2 909.9 L1319.8 910.0 L1321.4 910.0 L1323.0 910.1 L1324.7 910.1 L1326.3 910.2 L1327.9 910.2 L1329.6 910.2 L1331.2 910.3 L1332.8 910.3 L1334.5 910.4 L1336.1 910.4 L1337.7 910.5 L1339.4 910.5 L1341.0 910.5 L1342.6 910.6 L1344.3 910.6 L1345.9 910.7 L1347.5 910.7 L1349.1 910.8 L1350.8 910.8 L1352.4 910.8 L1354.0 910.9 L1355.7 910.9 L1357.3 911.0 L1358.9 911.0 L1360.6 911.0 L1362.2 911.1 L1363.8 911.1 L1365.4 911.2 L1367.1 911.2 L1368.7 911.3 L1370.3 911.3 L1372.0 911.3 L1373.6 911.4 L1375.2 911.4 L1376.9 911.5 L1378.5 911.5 L1380.1 911.6 L1381.7 911.6 L1383.4 911.7 L1385.0 911.7 L1386.6 911.7 L1388.3 911.8 L1389.9 911.8 L1391.5 911.9 L1393.1 911.9 L1394.8 912.0 L1396.0 912.0" stroke="#00ff00"/>
</g>
<g font-family="Liberation Serif, serif" font-weight="bold" font-size="46" fill="#000">
<text x="217.3" y="925.9" text-anchor="end" transform="translate(217.3 0) scale(1.04 1) translate(-217.3 0)">0</text>
<text x="217.3" y="818.0" text-anchor="end" transform="translate(217.3 0) scale(1.04 1) translate(-217.3 0)">200</text>
<text x="217.3" y="710.1" text-anchor="end" transform="translate(217.3 0) scale(1.04 1) translate(-217.3 0)">400</text>
<text x="217.3" y="602.2" text-anchor="end" transform="translate(217.3 0) scale(1.04 1) translate(-217.3 0)">600</text>
<text x="217.3" y="494.3" text-anchor="end" transform="translate(217.3 0) scale(1.04 1) translate(-217.3 0)">800</text>
<text x="217.3" y="386.5" text-anchor="end" transform="translate(217.3 0) scale(1.04 1) translate(-217.3 0)">1000</text>
<text x="217.3" y="278.6" text-anchor="end" transform="translate(217.3 0) scale(1.04 1) translate(-217.3 0)">1200</text>
<text x="217.3" y="170.7" text-anchor="end" transform="translate(217.3 0) scale(1.04 1) translate(-217.3 0)">1400</text>
<text x="217.3" y="62.8" text-anchor="end" transform="translate(217.3 0) scale(1.04 1) translate(-217.3 0)">1600</text>
<text x="236.0" y="968.4" text-anchor="middle" transform="translate(236.0 0) scale(1.04 1) translate(-236.0 0)">400</text>
<text x="429.3" y="968.4" text-anchor="middle" transform="translate(429.3 0) scale(1.04 1) translate(-429.3 0)">450</text>
<text x="622.7" y="968.4" text-anchor="middle" transform="translate(622.7 0) scale(1.04 1) translate(-622.7 0)">500</text>
<text x="816.0" y="968.4" text-anchor="middle" transform="translate(816.0 0) scale(1.04 1) translate(-816.0 0)">550</text>
<text x="1009.3" y="968.4" text-anchor="middle" transform="translate(1009.3 0) scale(1.04 1) translate(-1009.3 0)">600</text>
<text x="1202.7" y="968.4" text-anchor="middle" transform="translate(1202.7 0) scale(1.04 1) translate(-1202.7 0)">650</text>
<text x="1396.0" y="968.4" text-anchor="middle" transform="translate(1396.0 0) scale(1.04 1) translate(-1396.0 0)">700</text>
</g>
<text x="0" y="0" font-family="Liberation Serif, serif" font-weight="bold" font-size="50" fill="#000" transform="translate(56.2 661.7) rotate(-90)" textLength="328.5" lengthAdjust="spacingAndGlyphs">Intensity (a.u.)</text>
<text x="627.3" y="1050.2" font-family="Liberation Serif, serif" font-size="51" fill="#151515" stroke="#151515" stroke-width="1.5" stroke-linejoin="round" textLength="371.5" lengthAdjust="spacingAndGlyphs">Wavelength (nm)</text>
<line x1="1092" y1="47.0" x2="1163" y2="47.0" stroke="#0000ff" stroke-width="6.4"/>
<text x="1174.4" y="59.7" font-family="Liberation Serif, serif" font-size="42" fill="#000" textLength="92.1" lengthAdjust="spacingAndGlyphs">DMF</text>
<line x1="1092" y1="97.8" x2="1163" y2="97.8" stroke="#ff0000" stroke-width="6.4"/>
<text x="1174.4" y="107.9" font-family="Liberation Serif, serif" font-size="42" fill="#000" textLength="124.3" lengthAdjust="spacingAndGlyphs">DMSO</text>
<line x1="1092" y1="148.1" x2="1163" y2="148.1" stroke="#ff00ff" stroke-width="6.4"/>
<text x="1174.4" y="155.7" font-family="Liberation Serif, serif" font-size="42" fill="#000" textLength="95.6" lengthAdjust="spacingAndGlyphs">water</text>
<line x1="1092" y1="198.5" x2="1163" y2="198.5" stroke="#00ff00" stroke-width="6.4"/>
<text x="1174.4" y="206.5" font-family="Liberation Serif, serif" font-size="42" fill="#000" textLength="123.6" lengthAdjust="spacingAndGlyphs">ethanol</text>
</svg>
</body></html>
